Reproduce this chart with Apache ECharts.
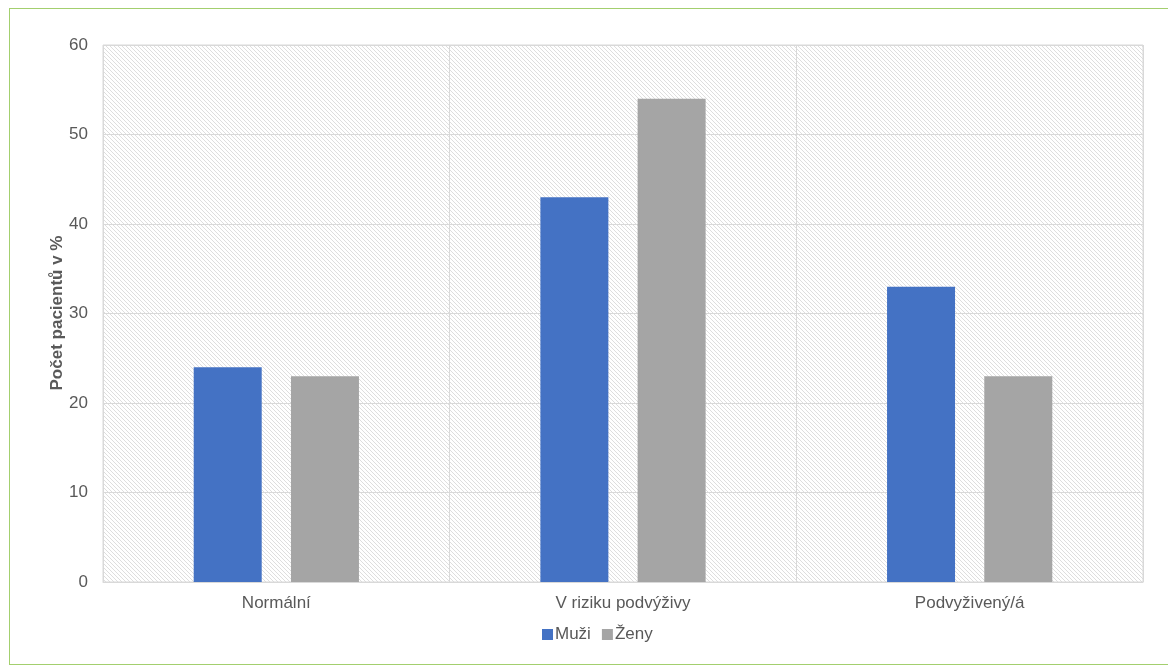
<!DOCTYPE html>
<html>
<head>
<meta charset="utf-8">
<script src="https://cdn.jsdelivr.net/npm/echarts@6/dist/echarts.min.js"></script>
<style>
  html, body { margin: 0; padding: 0; background: #fff; }
  #frame { position: absolute; left: 9px; top: 8px; width: 1170px; height: 657px; border: 1px solid #a3cf6e; box-sizing: border-box; }
  #chart { position: absolute; left: 0; top: 0; width: 1168px; height: 666px; }
</style>
</head>
<body>
<div id="frame"></div>
<div id="chart"></div>
<script>
const categories = ['Normální', 'V riziku podvýživy', 'Podvyživený/á'];
const seriesNames = ['Muži', 'Ženy'];
const muzi = [24, 43, 33];
const zeny = [23, 54, 23];
const yTicks = { min: 0, max: 60, interval: 10 };
const yTitle = 'Počet pacientů v %';

// diagonal hatch tile for the plot background
function hatchTile() {
  const c = document.createElement('canvas');
  c.width = 4; c.height = 4;
  const g = c.getContext('2d');
  g.fillStyle = '#ffffff';
  g.fillRect(0, 0, 4, 4);
  g.strokeStyle = '#dedede';
  g.lineWidth = 1;
  g.beginPath();
  g.moveTo(-1, -1); g.lineTo(5, 5);
  g.moveTo(-1, 3); g.lineTo(1, 5);
  g.moveTo(3, -1); g.lineTo(5, 1);
  g.stroke();
  return c;
}

const chart = echarts.init(document.getElementById('chart'), null, { renderer: 'canvas' });
const font = 'Liberation Sans, Arial, sans-serif';

chart.setOption({
  animation: false,
  textStyle: { fontFamily: font },
  grid: {
    left: 103, right: 25, top: 45, bottom: 84,
    show: true,
    backgroundColor: { image: hatchTile(), repeat: 'repeat' },
    borderColor: '#d9d9d9',
    borderWidth: 1
  },
  // rotated y-axis title
  graphic: [{
    type: 'text',
    x: 57,
    y: 313,
    rotation: Math.PI / 2,
    style: {
      text: yTitle,
      fontSize: 17,
      fontWeight: 'bold',
      fontFamily: font,
      fill: '#595959',
      align: 'center',
      verticalAlign: 'middle'
    }
  }],
  legend: {
    data: seriesNames,
    left: 537,
    top: 621,
    itemWidth: 11,
    itemHeight: 11,
    itemGap: 11,
    icon: 'rect',
    textStyle: { fontSize: 17, color: '#595959', fontFamily: font, padding: [0, 0, 0, -3] }
  },
  xAxis: {
    type: 'category',
    data: categories,
    axisLine: { show: true, lineStyle: { color: '#d9d9d9' } },
    axisTick: { show: false },
    axisLabel: { fontSize: 17, color: '#595959', margin: 13 },
    splitLine: { show: true, lineStyle: { color: '#d9d9d9' } }
  },
  yAxis: {
    type: 'value',
    min: yTicks.min, max: yTicks.max, interval: yTicks.interval,
    axisLine: { show: false },
    axisTick: { show: false },
    axisLabel: { fontSize: 17, color: '#595959', margin: 15 },
    splitLine: { show: true, lineStyle: { color: '#d9d9d9' } }
  },
  series: [
    { name: seriesNames[0], type: 'bar', data: muzi, barWidth: 68, barGap: '43%', itemStyle: { color: '#4472c4' } },
    { name: seriesNames[1], type: 'bar', data: zeny, barWidth: 68, itemStyle: { color: '#a5a5a5' } }
  ]
});
</script>
</body>
</html>
